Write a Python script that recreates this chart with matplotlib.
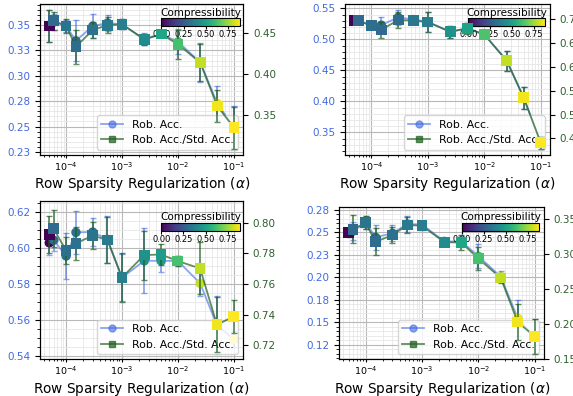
import matplotlib
matplotlib.use("Agg")
import matplotlib.pyplot as plt
import numpy as np
from matplotlib.ticker import MultipleLocator, FormatStrFormatter

# regularization strengths (x axis, log)
alphas = np.array([5e-5, 6e-5, 1e-4, 1.5e-4, 3e-4, 5.5e-4, 1e-3, 2.5e-3, 5e-3, 1e-2, 2.5e-2, 5e-2, 1e-1])

# panel 1 (top left)
rob1 = [0.349, 0.353, 0.349, 0.3345, 0.349, 0.352, 0.3507, 0.336, 0.341, 0.3336, 0.313, 0.273, 0.249]
rob1_err = [0.016, 0.008, 0.006, 0.020, 0.012, 0.008, 0.005, 0.006, 0.003, 0.012, 0.019, 0.017, 0.021]
ratio1 = [0.459, 0.4655, 0.459, 0.4336, 0.454, 0.460, 0.461, 0.4425, 0.449, 0.4365, 0.414, 0.361, 0.3343]
ratio1_err = [0.020, 0.011, 0.009, 0.021, 0.010, 0.010, 0.006, 0.007, 0.004, 0.018, 0.023, 0.020, 0.026]
comp1 = [0.0, 0.30, 0.34, 0.31, 0.33, 0.36, 0.37, 0.42, 0.52, 0.62, 0.80, 0.86, 0.88]

# panel 2 (top right)
rob2 = [0.5311, 0.530, 0.5215, 0.523, 0.5355, 0.532, 0.5284, 0.5123, 0.5177, 0.508, 0.4657, 0.4058, 0.3333]
rob2_err = [0.005, 0.006, 0.005, 0.013, 0.012, 0.006, 0.016, 0.010, 0.008, 0.005, 0.016, 0.018, 0.010]
ratio2 = [0.697, 0.697, 0.6866, 0.6775, 0.6985, 0.697, 0.694, 0.6735, 0.681, 0.668, 0.613, 0.5353, 0.4408]
ratio2_err = [0.006, 0.008, 0.006, 0.017, 0.016, 0.008, 0.021, 0.013, 0.011, 0.006, 0.021, 0.023, 0.013]
comp2 = [0.0, 0.30, 0.32, 0.30, 0.31, 0.35, 0.37, 0.45, 0.50, 0.63, 0.80, 0.86, 0.88]

# panel 3 (bottom left)
rob3 = [0.6029, 0.6044, 0.5956, 0.6087, 0.6089, 0.6048, 0.5835, 0.5929, 0.5929, 0.5928, 0.5804, 0.5572, 0.5493]
rob3_err = [0.007, 0.006, 0.013, 0.012, 0.008, 0.013, 0.013, 0.018, 0.006, 0.003, 0.007, 0.016, 0.0045]
ratio3 = [0.7924, 0.7961, 0.7819, 0.7865, 0.7917, 0.7887, 0.7643, 0.7789, 0.7793, 0.775, 0.7702, 0.7334, 0.7389]
ratio3_err = [0.012, 0.012, 0.009, 0.011, 0.009, 0.015, 0.016, 0.016, 0.007, 0.003, 0.017, 0.018, 0.011]
comp3 = [0.0, 0.30, 0.32, 0.33, 0.34, 0.36, 0.38, 0.44, 0.48, 0.62, 0.80, 0.86, 0.88]

# panel 4 (bottom right)
rob4 = [0.2497, 0.2515, 0.2611, 0.2446, 0.249, 0.2594, 0.2586, 0.2401, 0.2397, 0.2236, 0.2007, 0.1544, 0.1342]
rob4_err = [0.004, 0.010, 0.007, 0.014, 0.009, 0.009, 0.004, 0.003, 0.006, 0.013, 0.006, 0.020, 0.019]
ratio4 = [0.330, 0.3349, 0.3443, 0.3171, 0.3267, 0.341, 0.340, 0.3166, 0.316, 0.2934, 0.2657, 0.2029, 0.1824]
ratio4_err = [0.006, 0.020, 0.009, 0.019, 0.011, 0.011, 0.006, 0.004, 0.011, 0.017, 0.007, 0.026, 0.025]
comp4 = [0.0, 0.30, 0.34, 0.31, 0.33, 0.36, 0.37, 0.42, 0.52, 0.62, 0.80, 0.86, 0.88]

cbar_ticks = [0.0, 0.25, 0.5, 0.75]
legend_labels = ["Rob. Acc.", "Rob. Acc./Std. Acc."]
CMAX = 0.88
ROB_C = "royalblue"
RAT_C = "#1f5f1f"
RAT_LBL = "#2d612d"

fig = plt.figure(figsize=(5.73, 3.96), dpi=100)


def panel(rect, rob, rob_err, ratio, ratio_err, comp, ylim_l, ylim_r, step_l, step_r, cbar_rect):
    ax = fig.add_axes(rect)
    ax.set_xscale("log")
    h1 = ax.errorbar(alphas, rob, yerr=rob_err, color=ROB_C, alpha=0.6, marker="o", ms=5,
                     capsize=2, lw=1.3)
    ax.scatter(alphas, rob, c=comp, cmap="viridis", vmin=0, vmax=CMAX, marker="o", s=45,
               linewidths=0, zorder=3)
    ax2 = ax.twinx()
    h2 = ax2.errorbar(alphas, ratio, yerr=ratio_err, color=RAT_C, alpha=0.7, marker="s", ms=5,
                      capsize=2, lw=1.3)
    sc = ax2.scatter(alphas, ratio, c=comp, cmap="viridis", vmin=0, vmax=CMAX, marker="s", s=60,
                     linewidths=0, zorder=3)

    ax.set_ylim(*ylim_l)
    ax2.set_ylim(*ylim_r)
    ax.yaxis.set_major_locator(MultipleLocator(step_l))
    ax.yaxis.set_major_formatter(FormatStrFormatter("%.2f"))
    ax2.yaxis.set_major_locator(MultipleLocator(step_r))
    ax2.yaxis.set_major_formatter(FormatStrFormatter("%.2f"))
    ax.minorticks_on()
    ax.grid(True, which="major", color="#b8b8b8", lw=0.8)
    ax.grid(True, which="minor", color="#e6e6e6", lw=0.6)

    ax.tick_params(axis="y", labelcolor=ROB_C, labelsize=7.5)
    ax.tick_params(axis="x", which="major", labelsize=6.8, length=2.5, pad=1.5)
    ax.tick_params(axis="x", which="minor", length=1.5)
    ax2.tick_params(axis="y", labelcolor=RAT_LBL, labelsize=7.5)
    ax.set_xlabel(r"Row Sparsity Regularization ($\alpha$)", fontsize=9.8, labelpad=1.5)

    ax.legend([h1[0], h2[0]], legend_labels, loc="lower right", fontsize=7.8)

    cax = ax.inset_axes(cbar_rect)
    cb = fig.colorbar(sc, cax=cax, orientation="horizontal")
    cb.set_ticks(cbar_ticks)
    cb.ax.xaxis.set_major_formatter(FormatStrFormatter("%.2f"))
    cb.ax.tick_params(labelsize=6, length=2, pad=1)
    cb.set_label("Compressibility", fontsize=7.5, labelpad=2)
    cb.ax.xaxis.set_label_position("top")
    return ax, ax2


panel([0.0698, 0.6086, 0.3548, 0.3813], rob1, rob1_err, ratio1, ratio1_err, comp1,
      (0.222, 0.3707), (0.3009, 0.4859), 0.025, 0.05, [0.597, 0.854, 0.386, 0.051])
panel([0.6021, 0.6086, 0.3578, 0.3813], rob2, rob2_err, ratio2, ratio2_err, comp2,
      (0.3134, 0.557), (0.415, 0.732), 0.05, 0.05, [0.601, 0.854, 0.374, 0.051])
panel([0.0698, 0.0927, 0.3543, 0.3997], rob3, rob3_err, ratio3, ratio3_err, comp3,
      (0.5382, 0.6261), (0.7109, 0.8142), 0.02, 0.02, [0.597, 0.812, 0.386, 0.0505])
panel([0.5922, 0.0927, 0.3572, 0.3846], rob4, rob4_err, ratio4, ratio4_err, comp4,
      (0.1087, 0.2783), (0.1499, 0.3667), 0.025, 0.05, [0.598, 0.844, 0.378, 0.0525])

fig.savefig("out.png", dpi=100)
